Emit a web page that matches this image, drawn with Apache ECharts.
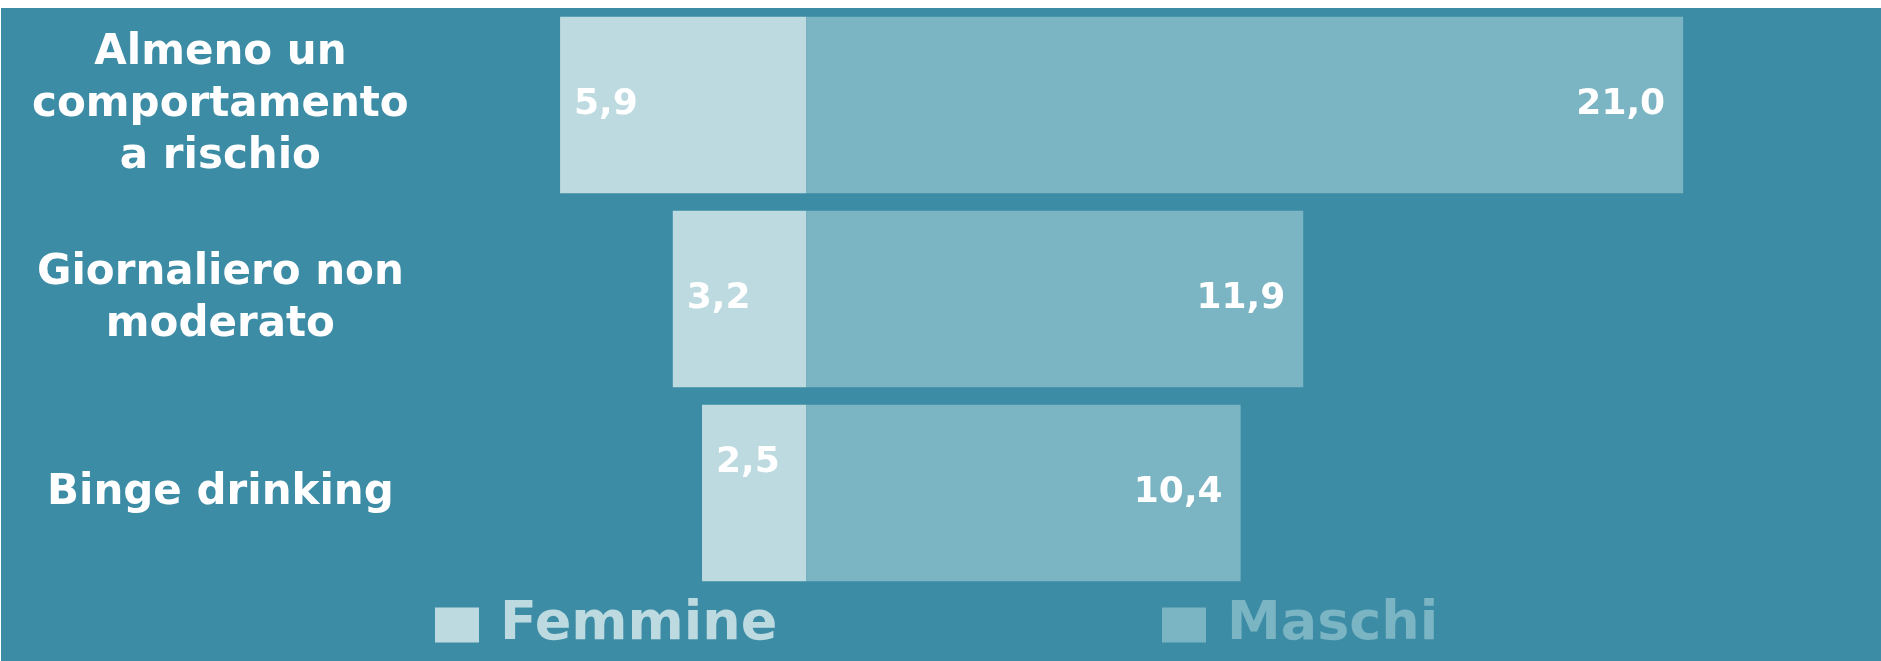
<!DOCTYPE html>
<html>
<head>
<meta charset="utf-8">
<title>Comportamenti a rischio per genere</title>
<script src="https://cdn.jsdelivr.net/npm/echarts@6/dist/echarts.min.js"></script>
<style>
  html, body { margin: 0; padding: 0; background: #ffffff; }
  body { width: 1881px; height: 661px; position: relative; overflow: hidden; }
  #chart { position: absolute; left: 1px; top: 8px; width: 1880px; height: 653px; }
</style>
</head>
<body>
<div id="chart"></div>
<script>
// Categories (top to bottom) and percentages by sex
const categories = ['Almeno un\ncomportamento\na rischio', 'Giornaliero non\nmoderato', 'Binge drinking'];
const femmine = [5.9, 3.2, 2.5];
const maschi = [21.0, 11.9, 10.4];

const BG = '#3d8ca6';
const COL_F = '#bddae0';
const COL_M = '#7bb4c3';
const FONT = 'DejaVu Sans';

const fmt = v => Math.abs(v).toFixed(1).replace('.', ',');

const chart = echarts.init(document.getElementById('chart'));
chart.setOption({
  backgroundColor: BG,
  animation: false,
  grid: { left: 304.4, width: 1503, top: 0, height: 582 },
  xAxis: { type: 'value', min: -12, max: 24, show: false },
  yAxis: {
    type: 'category',
    inverse: true,
    data: categories,
    axisLine: { show: false, onZero: false },
    axisTick: { show: false },
    splitLine: { show: false },
    axisLabel: {
      color: '#ffffff', fontFamily: FONT, fontWeight: 'bold',
      fontSize: 42, lineHeight: 52, align: 'center', margin: 85
    }
  },
  legend: [
    {
      data: [{ name: 'Femmine', textStyle: { color: COL_F } }],
      left: 434, top: 590, padding: 0, icon: 'rect', itemWidth: 44, itemHeight: 35,
      textStyle: { fontFamily: FONT, fontWeight: 'bold', fontSize: 54, lineHeight: 54, padding: [0, 0, 0, 16] }
    },
    {
      data: [{ name: 'Maschi', textStyle: { color: COL_M } }],
      left: 1161, top: 590, padding: 0, icon: 'rect', itemWidth: 44, itemHeight: 35,
      textStyle: { fontFamily: FONT, fontWeight: 'bold', fontSize: 54, lineHeight: 54, padding: [0, 0, 0, 16] }
    }
  ],
  series: [
    {
      name: 'Femmine', type: 'bar', stack: 'tot', barCategoryGap: '9%',
      itemStyle: { color: COL_F },
      data: femmine.map((v, i) => i === 2
        ? { value: -v, label: { offset: [0, -30] } }
        : -v),
      label: {
        show: true, position: 'insideLeft', distance: 14,
        color: '#ffffff', fontFamily: FONT, fontWeight: 'bold', fontSize: 36,
        formatter: p => fmt(p.value)
      }
    },
    {
      name: 'Maschi', type: 'bar', stack: 'tot', barCategoryGap: '9%',
      itemStyle: { color: COL_M },
      data: maschi,
      label: {
        show: true, position: 'insideRight', distance: 18,
        color: '#ffffff', fontFamily: FONT, fontWeight: 'bold', fontSize: 36,
        formatter: p => fmt(p.value)
      }
    }
  ]
});
</script>
</body>
</html>
